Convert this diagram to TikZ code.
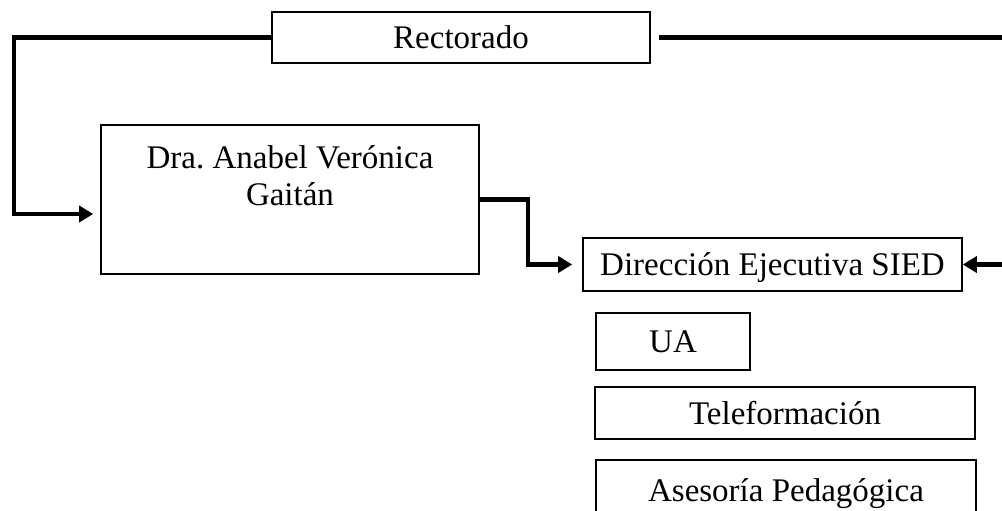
\documentclass[tikz,border=0pt]{standalone}
\usepackage{fontspec}
\setmainfont{Liberation Serif}
\usetikzlibrary{arrows.meta, positioning, calc}

\begin{document}
\begin{tikzpicture}[x=0.5pt, y=-0.5pt,
  every node/.style={font=\fontsize{16.5}{18.5}\selectfont},
  box/.style={draw, line width=0.8pt, inner sep=0pt, text height=11pt, text depth=0pt},
  link/.style={line width=2.3pt, -{Triangle[length=7pt, width=8pt]}}]
  \useasboundingbox (0,0) rectangle (1002,510);
  % upper boxes
  \node[box, minimum width=189pt, minimum height=25.5pt] (rect) at (461, 37.5) {Rectorado};
  \node[box, minimum width=189pt, minimum height=74.5pt] (gaitan) at (290, 199.5) {};
  \node[align=center] (gaitantxt) at (290, 176) {Dra.\ Anabel Verónica\\Gaitán};
  \node[box, minimum width=189.5pt, minimum height=26.5pt] (sied) at (772.5, 264.5) {Dirección Ejecutiva SIED};
  % lower boxes
  \node[box, minimum width=77pt, minimum height=28.5pt] (ua) at (673, 341.5) {UA};
  \node[box, minimum width=190pt, minimum height=26pt] (tele) at (785, 413) {Teleformación};
  \node[box, minimum width=190pt, minimum height=30pt] (ases) at (786, 490) {Asesoría Pedagógica};
  % connectors
  \draw[link, shorten >=3.5pt] (rect.west) -| (14, 214) -- ($(gaitan.west)+(0,14.5)$);
  \draw[link, shorten >=5pt] (gaitan.east) -- ++(48,0) |- (sied.west);
  \draw[link, shorten <=4pt] (rect.east) -- (1015, 37.5) |- (sied.east);
\end{tikzpicture}
\end{document}
